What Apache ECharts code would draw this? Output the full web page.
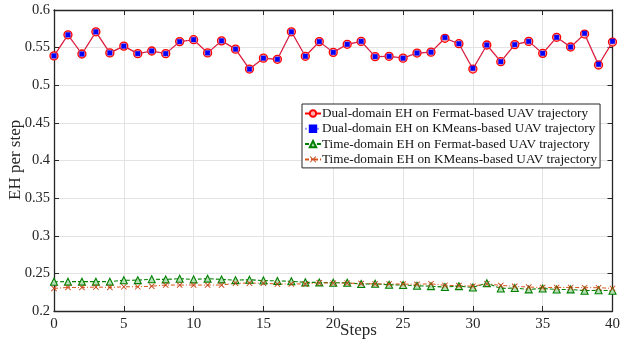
<!DOCTYPE html>
<html><head><meta charset="utf-8">
<script src="https://cdn.jsdelivr.net/npm/echarts@6/dist/echarts.min.js"></script>
<style>html,body{margin:0;padding:0;background:#fff}#c{width:623px;height:345px}</style>
</head><body><div id="c"></div>
<script>
const steps = Array.from({length: 41}, (_, i) => i);
const seriesNames = [
  'Dual-domain EH on Fermat-based UAV trajectory',
  'Dual-domain EH on KMeans-based UAV trajectory',
  'Time-domain EH on Fermat-based UAV trajectory',
  'Time-domain EH on KMeans-based UAV trajectory'
];
const dualFermat = [0.539,0.567,0.5415,0.571,0.543,0.552,0.542,0.5455,0.542,0.558,0.5605,0.543,0.559,0.548,0.5215,0.536,0.5345,0.571,0.5385,0.558,0.5437,0.5544,0.5583,0.538,0.5385,0.536,0.5428,0.544,0.5624,0.5552,0.5215,0.5535,0.5313,0.554,0.5583,0.5424,0.5637,0.5508,0.568,0.5269,0.5574];
const dualKMeans = [0.539,0.567,0.5415,0.571,0.543,0.552,0.542,0.5455,0.542,0.558,0.5605,0.543,0.559,0.548,0.5215,0.536,0.5345,0.571,0.5385,0.558,0.5437,0.5544,0.5583,0.538,0.5385,0.536,0.5428,0.544,0.5634,0.5552,0.5225,0.5535,0.5313,0.554,0.5583,0.5424,0.5637,0.5508,0.569,0.5279,0.5584];
const timeFermat = [0.2389,0.239,0.239,0.239,0.239,0.2409,0.241,0.2422,0.242,0.2429,0.242,0.243,0.242,0.241,0.2415,0.2405,0.240,0.2395,0.2381,0.238,0.2375,0.2375,0.2358,0.2362,0.2348,0.2345,0.2335,0.233,0.2318,0.233,0.2313,0.237,0.230,0.2305,0.2287,0.230,0.2285,0.2287,0.227,0.2275,0.227];
const timeKMeans = [0.230,0.2313,0.2313,0.2318,0.2313,0.2322,0.2322,0.233,0.2345,0.2345,0.2345,0.2345,0.2345,0.237,0.237,0.237,0.2358,0.236,0.236,0.2375,0.237,0.237,0.2365,0.236,0.236,0.2358,0.2355,0.2362,0.234,0.2338,0.233,0.2362,0.234,0.2328,0.2318,0.2313,0.2313,0.2313,0.231,0.231,0.230];
const xTicks = {min: 0, max: 40, interval: 5};
const yTicks = {min: 0.2, max: 0.6, interval: 0.05};

const font = 'Liberation Serif';
const axisColor = '#262626';
const pair = arr => arr.map((v, i) => [steps[i], v]);
const xPath = 'path://M0,1L1,0L5,4L9,0L10,1L6,5L10,9L9,10L5,6L1,10L0,9L4,5Z';

const chart = echarts.init(document.getElementById('c'), null, {renderer: 'canvas'});
const baseX = {
  type: 'value', min: xTicks.min, max: xTicks.max, interval: xTicks.interval,
  axisLine: {show: true, onZero: false, lineStyle: {color: axisColor, width: 1.3}},
  axisTick: {show: true, inside: true, length: 5, lineStyle: {color: axisColor}},
  splitLine: {show: false}
};
const baseY = {
  type: 'value', min: yTicks.min, max: yTicks.max, interval: yTicks.interval,
  axisLine: {show: true, onZero: false, lineStyle: {color: axisColor, width: 1.3}},
  axisTick: {show: true, inside: true, length: 5, lineStyle: {color: axisColor}},
  splitLine: {show: false}
};
chart.setOption({
  animation: false,
  backgroundColor: '#fff',
  grid: {left: 54, right: 8, top: 10, bottom: 34, containLabel: false},
  xAxis: [
    Object.assign({}, baseX, {position: 'bottom',
      axisLabel: {color: '#262626', fontFamily: font, fontSize: 15, margin: 6},
      splitLine: {show: true, lineStyle: {color: '#e3e3e3', width: 1}}}),
    Object.assign({}, baseX, {position: 'top', axisLabel: {show: false}})
  ],
  yAxis: [
    Object.assign({}, baseY, {position: 'left',
      axisLabel: {color: '#262626', fontFamily: font, fontSize: 14.5, margin: 4,
        formatter: v => String(+v.toFixed(2))},
      splitLine: {show: true, lineStyle: {color: '#e3e3e3', width: 1}}}),
    Object.assign({}, baseY, {position: 'right', axisLabel: {show: false}})
  ],
  legend: {
    orient: 'vertical', left: 302, top: 104,
    backgroundColor: '#fff', borderColor: '#262626', borderWidth: 1,
    padding: [3, 3, 2, 2], itemGap: 2.3, itemWidth: 16, itemHeight: 8,
    textStyle: {fontFamily: font, fontSize: 13.2, color: '#111', padding: [0, 0, 0, -4]},
    data: seriesNames
  },
  graphic: [
    {type: 'text', left: 340, top: 322, style: {text: 'Steps', font: '17px "Liberation Serif"', fill: '#262626'}},
    {type: 'text', x: 7, y: 200, rotation: Math.PI / 2, style: {text: 'EH per step', font: '17px "Liberation Serif"', fill: '#262626'}}
  ],
  series: [
    {name: seriesNames[0], type: 'line', data: pair(dualFermat), z: 3,
      symbol: 'circle', symbolSize: 8,
      lineStyle: {color: '#ff0000', width: 1.2},
      itemStyle: {color: '#ffb0b0', borderColor: '#ff0000', borderWidth: 1.3}},
    {name: seriesNames[1], type: 'line', data: pair(dualKMeans), z: 4,
      symbol: 'rect', symbolSize: 4.5,
      lineStyle: {color: '#6f6fff', width: 1, type: 'dotted', opacity: 0.7},
      itemStyle: {color: '#0000ff', borderColor: '#0000ff', borderWidth: 0.5}},
    {name: seriesNames[2], type: 'line', data: pair(timeFermat), z: 3,
      symbol: 'triangle', symbolSize: 7,
      lineStyle: {color: '#008000', width: 1.1, type: [4, 2]},
      itemStyle: {color: '#b8e0b8', borderColor: '#008000', borderWidth: 1.1}},
    {name: seriesNames[3], type: 'line', data: pair(timeKMeans), z: 3,
      symbol: xPath, symbolSize: 6,
      lineStyle: {color: '#d95319', width: 1, type: [4, 2, 1, 2]},
      itemStyle: {color: '#c04010', borderColor: '#c04010', borderWidth: 0}}
  ]
});
</script></body></html>
